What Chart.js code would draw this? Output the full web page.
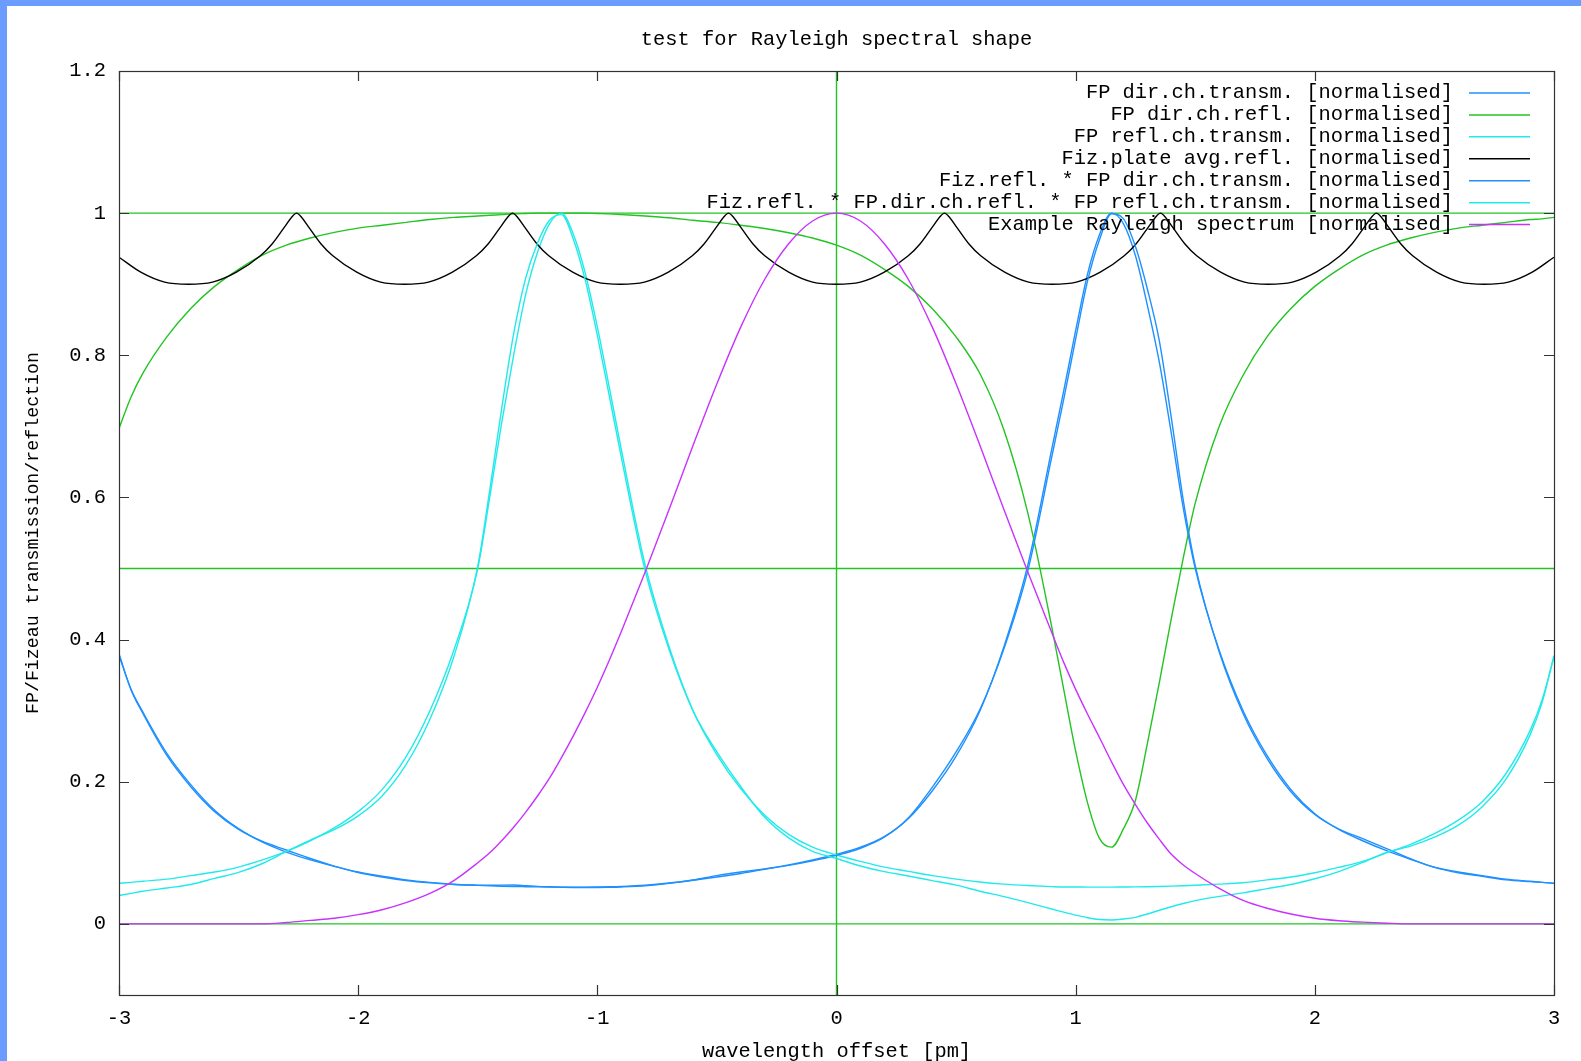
<!DOCTYPE html>
<html>
<head>
<meta charset="utf-8">
<title>test for Rayleigh spectral shape</title>
<script src="https://cdn.jsdelivr.net/npm/chart.js@4.4.0/dist/chart.umd.min.js"></script>
<style>
  html, body { margin: 0; padding: 0; background: #fff; }
  #wrap { position: relative; width: 1581px; height: 1061px; overflow: hidden; background: #fff; }
  #chart { position: absolute; left: 0; top: 0; }
  #bar-top { position: absolute; left: 0; top: 0; width: 1581px; height: 6px; background: #6b9cff; }
  #bar-left { position: absolute; left: 0; top: 0; width: 7px; height: 1061px; background: #6b9cff; }
</style>
</head>
<body>
<div id="wrap">
  <canvas id="chart" width="1581" height="1061"></canvas>
  <div id="bar-top"></div>
  <div id="bar-left"></div>
</div>
<script>
// wavelength offset [pm]
const xs = [
  -3, -2.95, -2.9, -2.8, -2.7, -2.6, -2.5, -2.4, -2.3, -2.2,
  -2.1, -2.0, -1.9, -1.8, -1.7, -1.6, -1.5, -1.45, -1.4, -1.35,
  -1.3, -1.25, -1.2, -1.15, -1.1, -1.05, -1.0, -0.95, -0.9, -0.8,
  -0.7, -0.6, -0.5, -0.4, -0.3, -0.2, -0.1, 0, 0.1, 0.2,
  0.3, 0.4, 0.5, 0.6, 0.7, 0.8, 0.9, 0.95, 1.0, 1.05,
  1.1, 1.15, 1.2, 1.25, 1.3, 1.35, 1.4, 1.45, 1.5, 1.6,
  1.7, 1.8, 1.9, 2.0, 2.1, 2.2, 2.3, 2.4, 2.5, 2.6,
  2.7, 2.8, 2.9, 2.95, 3
];

const xTicks = [-3, -2, -1, 0, 1, 2, 3];
const yTicks = [0, 0.2, 0.4, 0.6, 0.8, 1, 1.2];
const refLevels = [0, 0.5, 1];   // green horizontal guide lines
const refOffsets = [0];          // green vertical guide line

// FP dir.ch.transm.
const fpTransm = [
  0.378, 0.330, 0.298, 0.240, 0.196, 0.160, 0.134, 0.115, 0.101, 0.090,
  0.081, 0.073, 0.067, 0.062, 0.0585, 0.0558, 0.0542, 0.0536, 0.0531, 0.0527,
  0.0524, 0.0521, 0.0519, 0.0518, 0.0517, 0.0518, 0.052, 0.0523, 0.0528, 0.0545,
  0.0575, 0.0615, 0.066, 0.071, 0.077, 0.083, 0.090, 0.098, 0.108, 0.123,
  0.148, 0.187, 0.236, 0.300, 0.390, 0.505, 0.668, 0.750, 0.835, 0.915,
  0.970, 1.0, 0.985, 0.940, 0.870, 0.790, 0.690, 0.585, 0.500, 0.385,
  0.300, 0.237, 0.189, 0.155, 0.133, 0.117, 0.103, 0.091, 0.080, 0.073,
  0.068, 0.063, 0.060, 0.0585, 0.057
];

// FP dir.ch.refl.
const fpRefl = [
  0.697, 0.741, 0.775, 0.826, 0.866, 0.897, 0.921, 0.941, 0.955, 0.965,
  0.973, 0.979, 0.983, 0.987, 0.991, 0.994, 0.996, 0.997, 0.998, 0.999,
  0.9995, 1.0, 1.0, 1.0, 1.0, 1.0, 0.9995, 0.999, 0.998, 0.996,
  0.9935, 0.990, 0.987, 0.983, 0.9785, 0.9725, 0.965, 0.955, 0.941, 0.921,
  0.897, 0.866, 0.826, 0.774, 0.695, 0.578, 0.418, 0.330, 0.243, 0.170,
  0.120, 0.108, 0.134, 0.174, 0.254, 0.340, 0.430, 0.515, 0.592, 0.700,
  0.772, 0.826, 0.866, 0.897, 0.921, 0.941, 0.955, 0.965, 0.973, 0.979,
  0.983, 0.987, 0.991, 0.992, 0.994
];

// FP refl.ch.transm.
const fpReflTransm = [
  0.0572, 0.0585, 0.060, 0.063, 0.068, 0.073, 0.080, 0.090, 0.102, 0.117,
  0.135, 0.158, 0.189, 0.235, 0.300, 0.385, 0.500, 0.600, 0.705, 0.800,
  0.885, 0.945, 0.985, 1.0, 0.970, 0.915, 0.840, 0.755, 0.668, 0.505,
  0.390, 0.300, 0.238, 0.190, 0.153, 0.126, 0.108, 0.097, 0.088, 0.080,
  0.074, 0.068, 0.063, 0.059, 0.056, 0.054, 0.0525, 0.052, 0.052, 0.0518,
  0.0518, 0.0518, 0.052, 0.0521, 0.0523, 0.0527, 0.0532, 0.0538, 0.0545, 0.056,
  0.058, 0.062, 0.066, 0.072, 0.0795, 0.088, 0.100, 0.112, 0.127, 0.146,
  0.172, 0.212, 0.272, 0.315, 0.376
];

// Fiz.plate avg.refl. (own x positions, cusps at the peaks)
const fizX = [
  -3.0, -2.909, -2.809, -2.709, -2.609, -2.509, -2.409, -2.359, -2.309, -2.279, -2.2575,
  -2.236, -2.206, -2.156, -2.106, -2.006, -1.906, -1.806, -1.706, -1.606, -1.506, -1.456, -1.406, -1.376, -1.3545,
  -1.333, -1.303, -1.253, -1.203, -1.103, -1.003, -0.903, -0.803, -0.703, -0.603, -0.553, -0.503, -0.473, -0.4515,
  -0.43, -0.4, -0.35, -0.3, -0.2, -0.1, 0, 0.1, 0.2, 0.3, 0.35, 0.4, 0.43, 0.4515,
  0.473, 0.503, 0.553, 0.603, 0.703, 0.803, 0.903, 1.003, 1.103, 1.203, 1.253, 1.303, 1.333, 1.3545,
  1.376, 1.406, 1.456, 1.506, 1.606, 1.706, 1.806, 1.906, 2.006, 2.106, 2.156, 2.206, 2.236, 2.2575,
  2.279, 2.309, 2.359, 2.409, 2.509, 2.609, 2.709, 2.809, 2.909, 3.0
];
const fizRefl = [
  0.938, 0.917, 0.903, 0.900, 0.903, 0.917, 0.940, 0.957, 0.980, 0.994, 1.0,
  0.994, 0.980, 0.957, 0.940, 0.917, 0.903, 0.900, 0.903, 0.917, 0.940, 0.957, 0.980, 0.994, 1.0,
  0.994, 0.980, 0.957, 0.940, 0.917, 0.903, 0.900, 0.903, 0.917, 0.940, 0.957, 0.980, 0.994, 1.0,
  0.994, 0.980, 0.957, 0.940, 0.917, 0.903, 0.900, 0.903, 0.917, 0.940, 0.957, 0.980, 0.994, 1.0,
  0.994, 0.980, 0.957, 0.940, 0.917, 0.903, 0.900, 0.903, 0.917, 0.940, 0.957, 0.980, 0.994, 1.0,
  0.994, 0.980, 0.957, 0.940, 0.917, 0.903, 0.900, 0.903, 0.917, 0.940, 0.957, 0.980, 0.994, 1.0,
  0.994, 0.980, 0.957, 0.940, 0.917, 0.903, 0.900, 0.903, 0.917, 0.938
];

// Fiz.refl. * FP dir.ch.transm.
const fizTransm = [
  0.380, 0.330, 0.296, 0.237, 0.193, 0.158, 0.133, 0.116, 0.104, 0.092,
  0.0814, 0.0724, 0.066, 0.061, 0.0577, 0.0554, 0.0546, 0.0544, 0.0546, 0.0547,
  0.0538, 0.0528, 0.0522, 0.0517, 0.0513, 0.0512, 0.0512, 0.0515, 0.052, 0.0537,
  0.0571, 0.0618, 0.068, 0.073, 0.0774, 0.0824, 0.0887, 0.0965, 0.1065, 0.122,
  0.149, 0.192, 0.242, 0.302, 0.387, 0.497, 0.657, 0.738, 0.823, 0.905,
  0.963, 0.999, 0.992, 0.953, 0.893, 0.820, 0.712, 0.596, 0.504, 0.383,
  0.296, 0.233, 0.186, 0.154, 0.1335, 0.120, 0.106, 0.0917, 0.0795, 0.072,
  0.0669, 0.062, 0.0595, 0.0585, 0.0573
];

// Fiz.refl. * FP.dir.ch.refl. * FP refl.ch.transm.
const fizReflTransm = [
  0.040, 0.043, 0.046, 0.0505, 0.0555, 0.064, 0.0725, 0.085, 0.102, 0.118,
  0.1325, 0.152, 0.180, 0.224, 0.288, 0.376, 0.503, 0.610, 0.725, 0.830,
  0.908, 0.958, 0.990, 0.998, 0.963, 0.905, 0.828, 0.743, 0.657, 0.497,
  0.386, 0.300, 0.242, 0.193, 0.150, 0.121, 0.102, 0.092, 0.0815, 0.0735,
  0.0675, 0.061, 0.0545, 0.046, 0.0385, 0.030, 0.021, 0.0165, 0.0123, 0.0087,
  0.0062, 0.0056, 0.007, 0.0093, 0.014, 0.0193, 0.0242, 0.0287, 0.0328, 0.0387,
  0.0437, 0.0496, 0.0554, 0.0635, 0.0737, 0.0865, 0.1006, 0.1094, 0.122, 0.139,
  0.165, 0.204, 0.266, 0.311, 0.3775
];

// Example Rayleigh spectrum
const rayleigh = [
  0, 0, 0, 0, 0, 0, 0, 0, 0.002, 0.005,
  0.008, 0.013, 0.020, 0.030, 0.043, 0.061, 0.086, 0.100, 0.117, 0.136,
  0.157, 0.180, 0.205, 0.234, 0.265, 0.298, 0.333, 0.371, 0.411, 0.495,
  0.583, 0.673, 0.760, 0.840, 0.907, 0.957, 0.989, 1.0, 0.989, 0.957,
  0.907, 0.840, 0.760, 0.673, 0.583, 0.495, 0.410, 0.368, 0.330, 0.295,
  0.262, 0.228, 0.196, 0.168, 0.142, 0.119, 0.098, 0.083, 0.071, 0.050,
  0.033, 0.022, 0.014, 0.008, 0.0045, 0.0025, 0.001, 0, 0, 0,
  0, 0, 0, 0, 0
];

const BLUE = '#1e90ff', GREEN = '#22c422', CYAN = '#22eaea', BLACK = '#000000', MAGENTA = '#c832ff';
const FAMILY = '"Liberation Mono", "DejaVu Sans Mono", monospace';
const FONT = '20.4px ' + FAMILY;
const LINE_W = 1.4;

const series = [
  { label: 'FP dir.ch.transm. [normalised]', x: xs, y: fpTransm, color: BLUE },
  { label: 'FP dir.ch.refl. [normalised]', x: xs, y: fpRefl, color: GREEN },
  { label: 'FP refl.ch.transm. [normalised]', x: xs, y: fpReflTransm, color: CYAN },
  { label: 'Fiz.plate avg.refl. [normalised]', x: fizX, y: fizRefl, color: BLACK },
  { label: 'Fiz.refl. * FP dir.ch.transm. [normalised]', x: xs, y: fizTransm, color: BLUE },
  { label: 'Fiz.refl. * FP.dir.ch.refl. * FP refl.ch.transm. [normalised]', x: xs, y: fizReflTransm, color: CYAN },
  { label: 'Example Rayleigh spectrum [normalised]', x: xs, y: rayleigh, color: MAGENTA }
];

const X_MIN = -3, X_MAX = 3, Y_MIN = -0.1, Y_MAX = 1.2;

const datasets = series.map((s, i) => ({
  label: s.label,
  data: s.y.map((v, k) => ({ x: s.x[k], y: v })),
  borderColor: s.color,
  borderWidth: LINE_W,
  pointRadius: 0,
  fill: false,
  cubicInterpolationMode: 'monotone',
  order: series.length - i
}));

refLevels.forEach(v => datasets.push({
  label: 'ref', data: [{ x: X_MIN, y: v }, { x: X_MAX, y: v }],
  borderColor: GREEN, borderWidth: LINE_W, pointRadius: 0, tension: 0, order: 20
}));
refOffsets.forEach(v => datasets.push({
  label: 'ref', data: [{ x: v, y: Y_MIN }, { x: v, y: Y_MAX }],
  borderColor: GREEN, borderWidth: LINE_W, pointRadius: 0, tension: 0, order: 20
}));

// border, mirrored inward ticks, key and titles in gnuplot style
const gnuplotFrame = {
  id: 'gnuplotFrame',
  afterDatasetsDraw(chart) {
    const { ctx, chartArea: a, scales } = chart;
    ctx.save();
    ctx.strokeStyle = '#333';
    ctx.lineWidth = 1.2;
    ctx.strokeRect(a.left + 0.5, a.top + 0.5, a.right - a.left, a.bottom - a.top);
    ctx.beginPath();
    xTicks.forEach(v => {
      const px = Math.round(scales.x.getPixelForValue(v)) + 0.5;
      ctx.moveTo(px, a.bottom); ctx.lineTo(px, a.bottom - 10);
      ctx.moveTo(px, a.top); ctx.lineTo(px, a.top + 10);
    });
    yTicks.forEach(v => {
      const py = Math.round(scales.y.getPixelForValue(v)) + 0.5;
      ctx.moveTo(a.left, py); ctx.lineTo(a.left + 10, py);
      ctx.moveTo(a.right, py); ctx.lineTo(a.right - 10, py);
    });
    ctx.stroke();

    // key, top right inside the plot
    ctx.font = FONT;
    ctx.textAlign = 'right';
    ctx.textBaseline = 'middle';
    series.forEach((s, i) => {
      const yy = a.top + 22 + i * 21.93;
      ctx.fillStyle = '#000';
      ctx.fillText(s.label, a.right - 101, yy);
      ctx.strokeStyle = s.color;
      ctx.lineWidth = 1.5;
      ctx.beginPath();
      ctx.moveTo(a.right - 85, yy);
      ctx.lineTo(a.right - 24, yy);
      ctx.stroke();
    });
    ctx.restore();
  },
  afterDraw(chart) {
    const { ctx, chartArea: a } = chart;
    const cx = (a.left + a.right) / 2;
    ctx.save();
    ctx.fillStyle = '#000';
    ctx.textAlign = 'center';
    ctx.textBaseline = 'middle';
    ctx.font = FONT;
    ctx.fillText('test for Rayleigh spectral shape', cx, 39.5);
    ctx.fillText('wavelength offset [pm]', cx, 1052);
    ctx.translate(33, (a.top + a.bottom) / 2);
    ctx.rotate(-Math.PI / 2);
    ctx.font = '18.3px ' + FAMILY;
    ctx.fillText('FP/Fizeau transmission/reflection', 0, 0);
    ctx.restore();
  }
};

new Chart(document.getElementById('chart').getContext('2d'), {
  type: 'line',
  data: { datasets: datasets },
  options: {
    responsive: false,
    animation: false,
    events: [],
    layout: { padding: { left: 0, right: 27, top: 71, bottom: 0 } },
    plugins: {
      legend: { display: false },
      tooltip: { enabled: false },
      title: { display: false }
    },
    scales: {
      x: {
        type: 'linear',
        min: X_MIN, max: X_MAX,
        grid: { display: false, drawTicks: false },
        border: { display: false },
        afterBuildTicks: axis => { axis.ticks = xTicks.map(v => ({ value: v })); },
        afterFit: axis => { axis.height = 66; },
        ticks: {
          padding: 11, maxRotation: 0, autoSkip: false, color: '#000',
          font: { family: FAMILY, size: 20.4 },
          callback: v => String(v)
        }
      },
      y: {
        type: 'linear',
        min: Y_MIN, max: Y_MAX,
        grid: { display: false, drawTicks: false },
        border: { display: false },
        afterBuildTicks: axis => { axis.ticks = yTicks.map(v => ({ value: v })); },
        afterFit: axis => { axis.width = 119; },
        ticks: {
          padding: 13, autoSkip: false, color: '#000',
          font: { family: FAMILY, size: 20.4 },
          callback: v => String(v)
        }
      }
    }
  },
  plugins: [gnuplotFrame]
});
</script>
</body>
</html>
